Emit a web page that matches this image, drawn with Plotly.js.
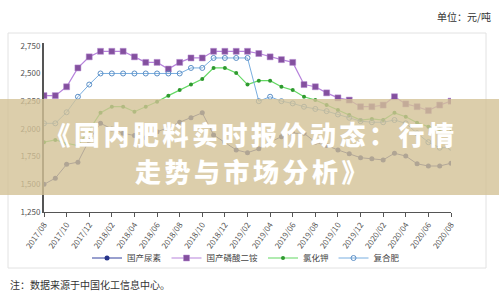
<!DOCTYPE html>
<html><head><meta charset="utf-8">
<script src="https://cdn.plot.ly/plotly-3.0.1.min.js"></script>
<style>html,body{margin:0;padding:0;background:#fff;}#chart{width:499px;height:297px;}</style>
</head><body><div id="chart"></div>
<script>
var months = ["2017/08","2017/09","2017/10","2017/11","2017/12","2018/01","2018/02","2018/03","2018/04","2018/05","2018/06","2018/07","2018/08","2018/09","2018/10","2018/11","2018/12","2019/01","2019/02","2019/03","2019/04","2019/05","2019/06","2019/07","2019/08","2019/09","2019/10","2019/11","2019/12","2020/01","2020/02","2020/03","2020/04","2020/05","2020/06","2020/07","2020/08"];
var tickLabels = ["2017/08","2017/10","2017/12","2018/02","2018/04","2018/06","2018/08","2018/10","2018/12","2019/02","2019/04","2019/06","2019/08","2019/10","2019/12","2020/02","2020/04","2020/06","2020/08"];
var urea = [1500,1555,1680,1700,1900,2050,2000,1960,1940,1920,1975,2010,2060,2100,2145,1945,1880,1810,1785,1820,1880,1930,1960,1960,1880,1850,1810,1775,1740,1730,1720,1780,1755,1685,1665,1665,1690];
var dap = [2300,2300,2380,2550,2650,2700,2700,2700,2650,2600,2600,2540,2600,2640,2640,2700,2700,2700,2700,2680,2650,2625,2600,2400,2380,2325,2280,2260,2200,2200,2215,2290,2225,2200,2165,2215,2250];
var kcl = [1880,1900,1870,1850,1990,2145,2200,2200,2155,2200,2245,2300,2350,2400,2450,2550,2550,2505,2400,2435,2435,2380,2350,2290,2260,2215,2170,2125,2080,2090,2080,2145,2110,2055,2020,2000,2000];
var compound = [2050,2050,2150,2290,2400,2500,2500,2500,2500,2500,2500,2500,2500,2550,2550,2640,2640,2640,2640,2250,2290,2250,2230,2200,2180,2160,2130,2100,2070,2060,2060,2080,2050,1960,1880,1830,1830];
var seriesNames = ["国产尿素","国产磷酸二铵","氯化钾","复合肥"];
var yTicks = [1250,1500,1750,2000,2250,2500,2750];
var bannerLines = ["《国内肥料实时报价动态：行情","走势与市场分析》"];

var W=499,H=297, L=44, R=48, T=43, B=85;
function px(x){return (x-L)/(W-L-R);}
function py(y){return (H-B-y)/(H-T-B);}

var traces = [
  {x:months,y:urea,name:seriesNames[0],type:'scatter',mode:'lines+markers',
   line:{color:'#33409e',width:1},marker:{symbol:'circle',size:5,color:'#27348a'}},
  {x:months,y:dap,name:seriesNames[1],type:'scatter',mode:'lines+markers',
   line:{color:'#b783dc',width:1.2},marker:{symbol:'square',size:6,color:'#84509f',line:{color:'#b58ad0',width:0.5}}},
  {x:months,y:kcl,name:seriesNames[2],type:'scatter',mode:'lines+markers',
   line:{color:'#63d863',width:1.2},marker:{symbol:'circle',size:4,color:'#2f9a2f'}},
  {x:months,y:compound,name:seriesNames[3],type:'scatter',mode:'lines+markers',
   line:{color:'#79aee0',width:1},marker:{symbol:'circle-open',size:5,color:'#5c8fc6',line:{width:1}}}
];

var titleFont = {size:26,color:'#ffffff',weight:900,family:'"Noto Sans CJK SC", sans-serif'};
var layout = {
  width:W,height:H,margin:{l:L,r:R,t:T,b:B},
  paper_bgcolor:'#fff',plot_bgcolor:'#fff',
  font:{family:'"Noto Sans CJK SC", "Noto Sans", sans-serif',size:8,color:'#444'},
  showlegend:true,
  legend:{orientation:'h',x:px(246),xanchor:'center',y:py(258),yanchor:'middle',
    font:{size:8.5,color:'#444'},itemwidth:30,bgcolor:'rgba(0,0,0,0)',tracegroupgap:0},
  xaxis:{type:'category',range:[0,36],tickmode:'array',tickvals:tickLabels,ticktext:tickLabels,
    tickangle:-55,ticks:'outside',ticklen:4,tickcolor:'#555',showline:true,linecolor:'#555',linewidth:1,
    showgrid:false,zeroline:false,tickfont:{size:8,color:'#555'}},
  yaxis:{range:[1250,2775],tickmode:'array',tickvals:yTicks,tickformat:',d',showline:true,linecolor:'#555',linewidth:2,
    showgrid:false,zeroline:false,ticks:'',tickfont:{size:8,color:'#555'}},
  shapes:[
    {type:'rect',xref:'paper',yref:'paper',x0:px(8),x1:px(486),y0:py(268),y1:py(33),
     line:{color:'#e2e2e2',width:1},fillcolor:'rgba(0,0,0,0)',layer:'below'},
    {type:'rect',xref:'paper',yref:'paper',x0:px(-2),x1:px(501),y0:py(195),y1:py(99),
     line:{width:0},fillcolor:'rgba(211,194,150,0.8)',layer:'above'}
  ],
  annotations:[
    {xref:'paper',yref:'paper',x:px(493),y:py(16),xanchor:'right',yanchor:'middle',showarrow:false,
     text:'单位：元/吨',font:{size:10,color:'#333'}},
    {xref:'paper',yref:'paper',x:px(8),y:py(284),xanchor:'left',yanchor:'middle',showarrow:false,
     text:'注：数据来源于中国化工信息中心。',font:{size:10,color:'#333'}},
    {xref:'paper',yref:'paper',x:px(251),y:py(133),xanchor:'center',yanchor:'middle',showarrow:false,
     text:bannerLines[0],font:titleFont},
    {xref:'paper',yref:'paper',x:px(253),y:py(170),xanchor:'center',yanchor:'middle',showarrow:false,
     text:bannerLines[1],font:titleFont}
  ]
};
Plotly.newPlot('chart',traces,layout,{staticPlot:true,displayModeBar:false}).then(function(gd){
  var texts = gd.querySelectorAll('.annotation-text');
  texts.forEach(function(t){
    if (bannerLines.indexOf(t.textContent) >= 0) { t.style.letterSpacing = '3.5px'; }
  });
});
</script></body></html>
